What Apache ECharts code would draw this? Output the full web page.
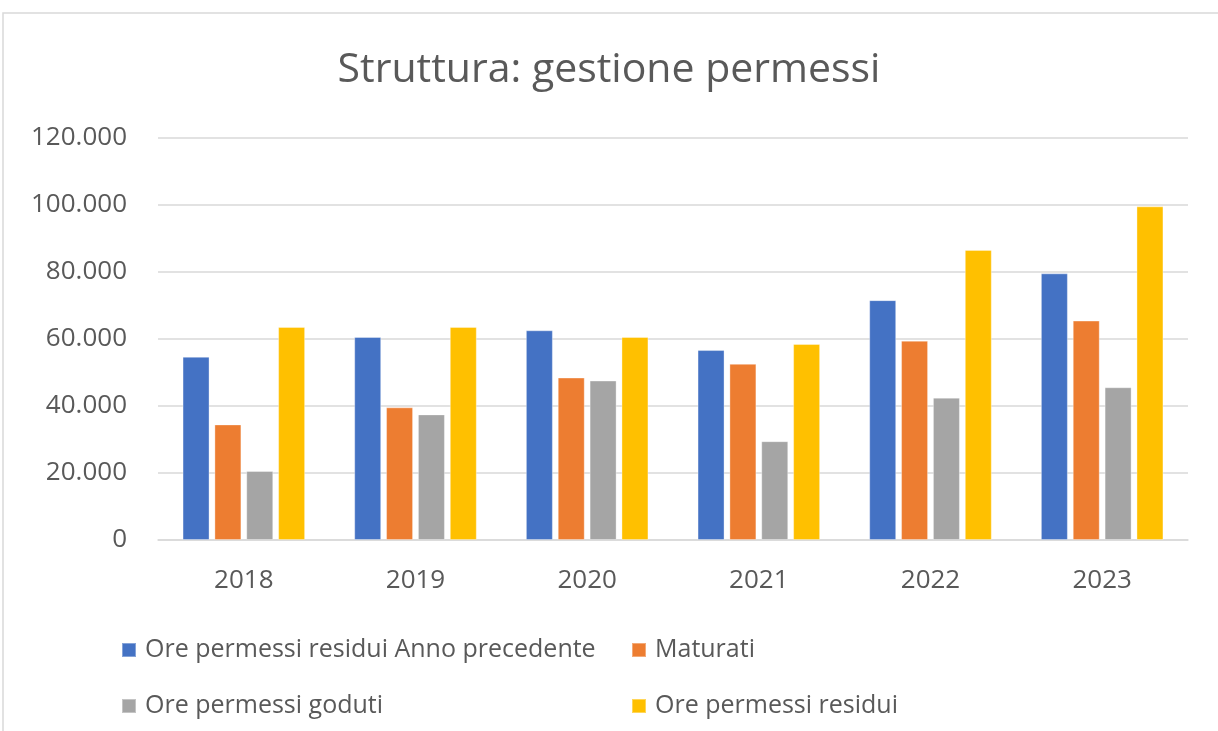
<!DOCTYPE html>
<html>
<head>
<meta charset="utf-8">
<script src="https://cdn.jsdelivr.net/npm/echarts@6/dist/echarts.min.js"></script>
<style>
  html, body { margin: 0; padding: 0; background: #fff; }
  #chart { width: 1218px; height: 731px; }
</style>
</head>
<body>
<div id="chart"></div>
<script>
var years = ['2018', '2019', '2020', '2021', '2022', '2023'];
var residuiPrecedente = [54700, 60600, 62600, 56700, 71600, 79600];
var maturati = [34500, 39600, 48500, 52600, 59500, 65500];
var goduti = [20600, 37500, 47600, 29500, 42500, 45600];
var residui = [63600, 63600, 60600, 58500, 86600, 99600];
var yTicks = [0, 20000, 40000, 60000, 80000, 100000, 120000];

var textColor = '#595959';
var font = '"Open Sans", "Noto Sans", sans-serif';

function fmt(v) {
  return String(v).replace(/\B(?=(\d{3})+(?!\d))/g, '.');
}

var chart = echarts.init(document.getElementById('chart'));

function barSeries(name, data, color) {
  return {
    name: name,
    type: 'bar',
    data: data,
    barWidth: 27,
    barGap: '18%',
    itemStyle: { color: color, borderColor: 'rgba(255,255,255,0.35)', borderWidth: 1 }
  };
}

chart.setOption({
  animation: false,
  textStyle: { fontFamily: font },
  title: {
    text: 'Struttura: gestione permessi',
    left: 'center',
    top: 45,
    textStyle: { fontFamily: font, fontSize: 41, fontWeight: 'normal', color: textColor }
  },
  graphic: [{
    type: 'polyline',
    shape: { points: [[3, 731], [3, 13], [1218, 13]] },
    style: { stroke: '#D9D9D9', lineWidth: 1.5, fill: null },
    silent: true
  }],
  legend: [{
    orient: 'vertical',
    left: 116,
    top: 630,
    itemWidth: 14,
    itemHeight: 14,
    itemGap: 26,
    icon: 'rect',
    data: ['Ore permessi residui Anno precedente', 'Ore permessi goduti'],
    textStyle: { fontFamily: font, fontSize: 25, color: textColor, lineHeight: 30, padding: [0, 0, 0, 4] }
  }, {
    orient: 'vertical',
    left: 626,
    top: 630,
    itemWidth: 14,
    itemHeight: 14,
    itemGap: 26,
    icon: 'rect',
    data: ['Maturati', 'Ore permessi residui'],
    textStyle: { fontFamily: font, fontSize: 25, color: textColor, lineHeight: 30, padding: [0, 0, 0, 4] }
  }],
  grid: { left: 158, right: 30, top: 138, bottom: 191 },
  xAxis: {
    type: 'category',
    data: years,
    axisLine: { lineStyle: { color: '#D9D9D9', width: 1.5 } },
    axisTick: { show: false },
    axisLabel: { fontFamily: font, fontSize: 26, color: textColor, margin: 28 }
  },
  yAxis: {
    type: 'value',
    min: yTicks[0],
    max: yTicks[yTicks.length - 1],
    interval: 20000,
    axisLine: { show: false },
    axisTick: { show: false },
    splitLine: { lineStyle: { color: '#D9D9D9', width: 1.5 } },
    axisLabel: { fontFamily: font, fontSize: 26, color: textColor, margin: 31, formatter: fmt }
  },
  series: [
    barSeries('Ore permessi residui Anno precedente', residuiPrecedente, '#4472C4'),
    barSeries('Maturati', maturati, '#ED7D31'),
    barSeries('Ore permessi goduti', goduti, '#A5A5A5'),
    barSeries('Ore permessi residui', residui, '#FFC000')
  ]
});
</script>
</body>
</html>
